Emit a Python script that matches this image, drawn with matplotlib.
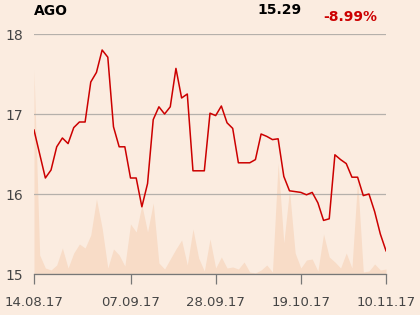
import numpy as np
import pandas as pd
import matplotlib
matplotlib.use('Agg')
import matplotlib.pyplot as plt

# trading days (Aug 15 and Nov 1 were holidays)
dates = pd.bdate_range('2017-08-14', '2017-11-10')
dates = dates.drop([pd.Timestamp('2017-08-15'), pd.Timestamp('2017-11-01')])

close = [16.80, 16.50, 16.20, 16.30, 16.59, 16.70, 16.63, 16.83, 16.90, 16.90,
         17.40, 17.52, 17.80, 17.71, 16.84, 16.59, 16.59, 16.20, 16.20, 15.84,
         16.13, 16.93, 17.09, 17.00, 17.09, 17.57, 17.20, 17.25, 16.29, 16.29,
         16.29, 17.01, 16.98, 17.10, 16.89, 16.82, 16.39, 16.39, 16.39, 16.43,
         16.75, 16.72, 16.68, 16.69, 16.22, 16.04, 16.03, 16.02, 15.99, 16.02,
         15.89, 15.67, 15.69, 16.49, 16.43, 16.38, 16.21, 16.21, 15.98, 16.00,
         15.78, 15.50, 15.29]

volume = [204, 19, 6, 4, 9, 26, 6, 21, 30, 26,
          39, 75, 46, 6, 25, 19, 8, 50, 42, 69,
          42, 71, 11, 5, 15, 25, 34, 9, 45, 16,
          3, 35, 6, 17, 6, 7, 5, 12, 2, 1,
          4, 9, 2, 111, 31, 84, 21, 6, 14, 15,
          3, 40, 17, 12, 6, 21, 6, 94, 2, 3,
          10, 4, 5]

tick_dates = ['14.08.17', '07.09.17', '28.09.17', '19.10.17', '10.11.17']
yticks = [15, 16, 17, 18]

bg = '#fbece0'
x = np.arange(len(close))
labels = [d.strftime('%d.%m.%y') for d in dates]
tick_pos = [labels.index(t) for t in tick_dates]

fig = plt.figure(figsize=(4.2, 3.15), dpi=100, facecolor=bg)
ax = fig.add_axes([34 / 420, 1 - 274 / 315, 352 / 420, 240 / 315])
axv = ax.twinx()
ax.set_zorder(axv.get_zorder() + 1)
ax.patch.set_visible(False)
axv.set_facecolor(bg)

axv.fill_between(x, volume, 0, color='#f8dcc7', linewidth=0)
axv.set_ylim(0, 240)
axv.set_yticks([])
for s in axv.spines.values():
    s.set_visible(False)

ax.plot(x, close, color='#cc0000', linewidth=1.1)
ax.set_xlim(0, len(close) - 1)
ax.set_ylim(15, 18)
ax.set_yticks(yticks)
ax.set_yticklabels([str(v) for v in yticks], fontsize=10, color='#444444')
ax.tick_params(axis='y', length=0, pad=8)
ax.grid(axis='y', color='#b5b0ab', linewidth=0.9)
ax.set_xticks(tick_pos)
ax.set_xticklabels(tick_dates, fontsize=9.5, color='#444444')
ax.tick_params(axis='x', length=7, color='#777777', width=0.9, pad=9)
for side in ['top', 'right', 'left']:
    ax.spines[side].set_visible(False)
ax.spines['bottom'].set_color('#777777')
ax.spines['bottom'].set_linewidth(0.9)

fig.text(34 / 420, 1 - 11 / 315, 'AGO', fontsize=10, fontweight='bold', va='center', ha='left')
fig.text(302 / 420, 1 - 10 / 315, f'{close[-1]:.2f}', fontsize=10, fontweight='bold', va='center', ha='right')
fig.text(377 / 420, 1 - 17 / 315, '-8.99%', fontsize=10, fontweight='bold', color='#cc0000', va='center', ha='right')

fig.savefig('out.png', dpi=100, facecolor=bg)
